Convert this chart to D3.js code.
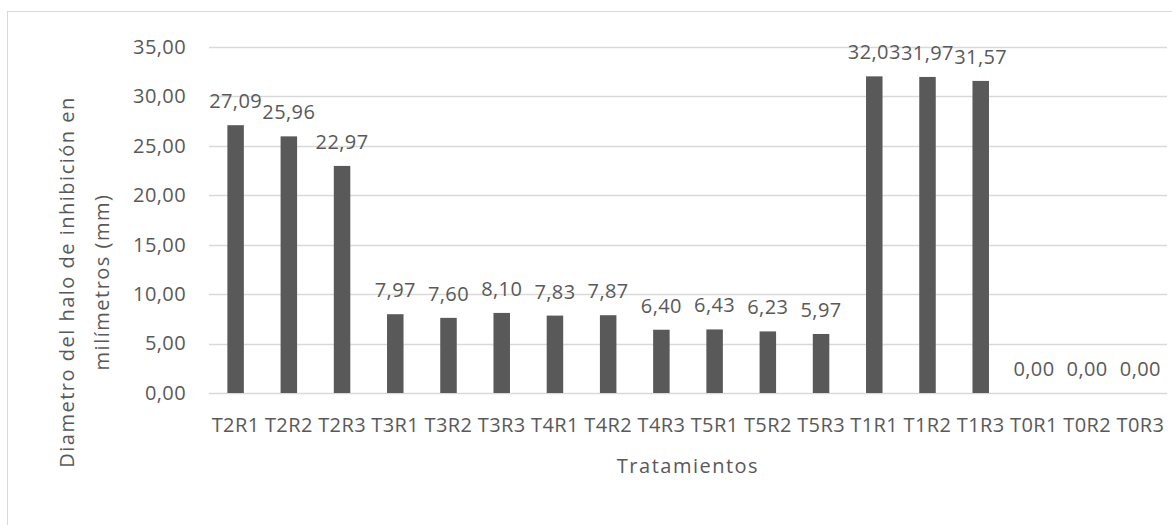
<!DOCTYPE html>
<html>
<head>
<meta charset="utf-8">
<script src="https://cdn.jsdelivr.net/npm/d3@7"></script>
<style>
  body { margin: 0; background: #fff; }
  text { font-family: "Open Sans", sans-serif; fill: #595959; }
</style>
</head>
<body>
<svg id="chart" width="1172" height="525"></svg>
<script>
// tratamientos (x axis)
var categories = ["T2R1", "T2R2", "T2R3", "T3R1", "T3R2", "T3R3", "T4R1", "T4R2", "T4R3",
                  "T5R1", "T5R2", "T5R3", "T1R1", "T1R2", "T1R3", "T0R1", "T0R2", "T0R3"];
// diametro del halo (mm)
var values = [27.09, 25.96, 22.97, 7.97, 7.60, 8.10, 7.83, 7.87, 6.40,
              6.43, 6.23, 5.97, 32.03, 31.97, 31.57, 0.00, 0.00, 0.00];
var yTicks = [0, 5, 10, 15, 20, 25, 30, 35];

var locale = d3.formatLocale({decimal: ",", thousands: ".", grouping: [3], currency: ["", ""]});
var fmt = locale.format(".2f");

var svg = d3.select("#chart");

var plotLeft = 209, plotRight = 1167, plotTop = 47, plotBottom = 393;
var fs = "20px", ls = "0.4px";

// chart frame
svg.append("rect")
    .attr("x", 7.5).attr("y", 11.5)
    .attr("width", 1200).attr("height", 600)
    .attr("fill", "none")
    .attr("stroke", "#d9d9d9");

var x = d3.scaleBand().domain(categories).range([plotLeft, plotRight]).paddingInner(0.69).paddingOuter(0.345);
var y = d3.scaleLinear().domain([0, 35]).range([plotBottom, plotTop]);

// gridlines
svg.append("g")
    .selectAll("line")
    .data(yTicks)
    .join("line")
    .attr("x1", plotLeft).attr("x2", plotRight)
    .attr("y1", d => Math.round(y(d)) + 0.5)
    .attr("y2", d => Math.round(y(d)) + 0.5)
    .attr("stroke", "#d9d9d9")
    .attr("stroke-width", 1.5);

// y axis labels
var yAxis = svg.append("g")
    .attr("transform", "translate(" + plotLeft + ",0)")
    .call(d3.axisLeft(y).tickValues(yTicks).tickFormat(fmt).tickSize(0).tickPadding(23));
yAxis.select(".domain").remove();
yAxis.selectAll("text")
    .style("font-size", fs)
    .style("letter-spacing", ls)
    .style("font-family", "'Open Sans', sans-serif")
    .attr("fill", "#595959");

// bars
svg.append("g")
    .selectAll("rect")
    .data(values)
    .join("rect")
    .attr("x", (d, i) => x(categories[i]))
    .attr("width", x.bandwidth())
    .attr("y", d => y(d))
    .attr("height", d => plotBottom - y(d))
    .attr("fill", "#595959");

// data labels
svg.append("g")
    .selectAll("text")
    .data(values)
    .join("text")
    .attr("x", (d, i) => x(categories[i]) + x.bandwidth() / 2)
    .attr("y", d => y(d) - 17)
    .attr("text-anchor", "middle")
    .style("font-size", fs)
    .style("letter-spacing", ls)
    .text(d => fmt(d));

// x axis labels
var xAxis = svg.append("g")
    .attr("transform", "translate(0," + plotBottom + ")")
    .call(d3.axisBottom(x).tickSize(0).tickPadding(25));
xAxis.select(".domain").remove();
xAxis.selectAll("text")
    .style("font-size", fs)
    .style("letter-spacing", ls)
    .style("font-family", "'Open Sans', sans-serif")
    .attr("fill", "#595959");

// axis titles
svg.append("text")
    .attr("x", 688).attr("y", 473)
    .attr("text-anchor", "middle")
    .style("font-size", fs)
    .style("letter-spacing", "1.5px")
    .text("Tratamientos");

var yt = svg.append("text")
    .attr("transform", "translate(74,282) rotate(-90)")
    .attr("text-anchor", "middle")
    .style("font-size", fs)
    .style("letter-spacing", "1.5px");
yt.append("tspan").attr("x", 0).attr("dy", 0).text("Diametro del halo de inhibición en");
yt.append("tspan").attr("x", 0).attr("dy", 35).text("milímetros (mm)");
</script>
</body>
</html>
